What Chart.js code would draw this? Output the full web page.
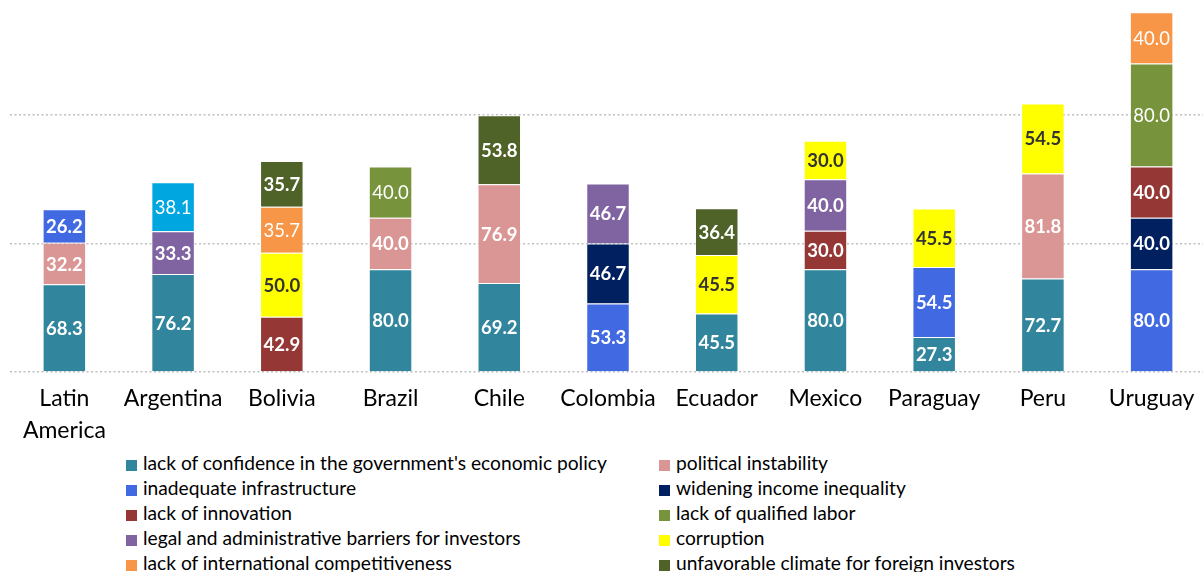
<!DOCTYPE html>
<html>
<head>
<meta charset="utf-8">
<script src="https://cdn.jsdelivr.net/npm/chart.js@4.4.4/dist/chart.umd.min.js"></script>
<style>
  html, body { margin: 0; padding: 0; background: #fff; overflow: hidden; }
  #wrap { position: relative; width: 1203px; height: 572px; overflow: hidden; }
  #chart-box { position: absolute; left: 0; top: 0; width: 1206px; height: 450px; }
  #legend { position: absolute; left: 0; top: 450px; width: 1203px; font-family: Lato, "Open Sans", sans-serif; font-size: 19.2px; color: #000; }
  .leg-item { position: absolute; height: 25px; line-height: 25px; white-space: nowrap; }
  .leg-box { display: inline-block; width: 11px; height: 11px; margin-right: 6px; vertical-align: -1px; }
</style>
</head>
<body>
<div id="wrap">
  <div id="chart-box"><canvas id="chart"></canvas></div>
  <div id="legend"></div>
</div>
<script>
/* ── Data ─────────────────────────────────────────────────────────── */
const CATEGORIES = [["Latin", "America"], "Argentina", "Bolivia", "Brazil", "Chile", "Colombia", "Ecuador", "Mexico", "Paraguay", "Peru", "Uruguay"];

const CONFIDENCE      = [68.3, 76.2, null, 80.0, 69.2, null, 45.5, 80.0, 27.3, 72.7, null];
const POLITICAL       = [32.2, null, null, 40.0, 76.9, null, null, null, null, 81.8, null];
const INFRASTRUCTURE  = [26.2, null, null, null, null, 53.3, null, null, 54.5, null, 80.0];
const INEQUALITY      = [null, null, null, null, null, 46.7, null, null, null, null, 40.0];
const INNOVATION      = [null, null, 42.9, null, null, null, null, 30.0, null, null, 40.0];
const QUALIFIED_LABOR = [null, null, null, 40.0, null, null, null, null, null, null, 80.0];
const LEGAL_BARRIERS  = [null, 33.3, null, null, null, 46.7, null, 40.0, null, null, null];
const CORRUPTION      = [null, null, 50.0, null, null, null, 45.5, 30.0, 45.5, 54.5, null];
const COMPETITIVENESS = [null, null, 35.7, null, null, null, null, null, null, null, 40.0];
const CLIMATE         = [null, null, 35.7, null, 53.8, null, 36.4, null, null, null, null];
const OTHER           = [null, 38.1, null, null, null, null, null, null, null, null, null];

const SERIES_NAMES = [
  "lack of confidence in the government's economic policy",
  "political instability",
  "inadequate infrastructure",
  "widening income inequality",
  "lack of innovation",
  "lack of qualified labor",
  "legal and administrative barriers for investors",
  "corruption",
  "lack of international competitiveness",
  "unfavorable climate for foreign investors",
  "other"                     // legend row for this one is cut off in the source
];
const SERIES_VALUES = [CONFIDENCE, POLITICAL, INFRASTRUCTURE, INEQUALITY, INNOVATION,
  QUALIFIED_LABOR, LEGAL_BARRIERS, CORRUPTION, COMPETITIVENESS, CLIMATE, OTHER];
const Y_TICKS = [0, 100, 200];

/* ── Styles ───────────────────────────────────────────────────────── */
const COLORS = ["#31859C", "#DA9694", "#4169E1", "#002060", "#953735",
  "#77933C", "#8064A2", "#FFFF00", "#F79646", "#4F6228", "#00A6E0"];
const LABEL_BOLD  = [true, true, true, true, true, false, true, true, false, true, false];
const LABEL_COLOR = COLORS.map(c => c === "#FFFF00" ? "#333333" : "#FFFFFF");

/* ── Bar value labels ─────────────────────────────────────────────── */
const barLabels = {
  id: "barLabels",
  afterDatasetsDraw(chart) {
    const ctx = chart.ctx;
    chart.data.datasets.forEach((ds, i) => {
      chart.getDatasetMeta(i).data.forEach((bar, j) => {
        const v = ds.data[j];
        if (v == null) return;
        ctx.save();
        ctx.font = (LABEL_BOLD[i] ? "bold " : "") + "18.5px Lato";
        ctx.fillStyle = LABEL_COLOR[i];
        ctx.textAlign = "center";
        ctx.textBaseline = "middle";
        ctx.fillText(v.toFixed(1), bar.x, (bar.y + bar.base) / 2 + 1);
        ctx.restore();
      });
    });
  }
};

/* ── Chart ────────────────────────────────────────────────────────── */
new Chart(document.getElementById("chart"), {
  type: "bar",
  data: {
    labels: CATEGORIES,
    datasets: SERIES_VALUES.map((vals, i) => ({
      label: SERIES_NAMES[i],
      data: vals,
      backgroundColor: COLORS[i],
      borderColor: "rgba(255,255,255,0.45)",
      borderWidth: 1,
      barPercentage: 0.4,
      categoryPercentage: 1
    }))
  },
  options: {
    responsive: true,
    maintainAspectRatio: false,
    animation: false,
    layout: { padding: { left: 10, right: 0, top: 0, bottom: 0 } },
    plugins: { legend: { display: false }, tooltip: { enabled: false } },
    scales: {
      x: {
        stacked: true,
        grid: { display: false, drawTicks: false },
        border: { display: false },
        ticks: { color: "#000", padding: 11, maxRotation: 0, autoSkip: false,
                 font: { family: "Lato", size: 23, lineHeight: 1.39 } },
        afterFit: s => { s.height = 78; }
      },
      y: {
        stacked: true,
        min: 0, max: 289.5,
        afterBuildTicks: s => { s.ticks = Y_TICKS.map(v => ({ value: v })); },
        ticks: { display: false },
        border: { display: false, dash: [2, 2.5] },
        grid: { color: "#BFBFBF", lineWidth: 1.5, drawTicks: false },
        afterFit: s => { s.width = 0; }
      }
    }
  },
  plugins: [barLabels]
});

/* ── Legend (two columns, row-major) ──────────────────────────────── */
const legendEl = document.getElementById("legend");
SERIES_NAMES.slice(0, 10).forEach((name, i) => {
  const row = Math.floor(i / 2), col = i % 2;
  const item = document.createElement("div");
  item.className = "leg-item";
  item.style.left = (col ? 659 : 126) + "px";
  item.style.top = (row * 25) + "px";
  item.innerHTML = `<span class="leg-box" style="background:${COLORS[i]}"></span>${name}`;
  legendEl.appendChild(item);
});
</script>
</body>
</html>
